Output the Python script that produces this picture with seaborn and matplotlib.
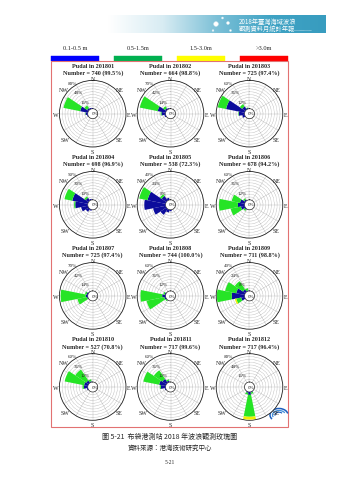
import numpy as np
import pandas as pd
import matplotlib
matplotlib.use("Agg")
import matplotlib.pyplot as plt
import seaborn as sns
from matplotlib.patches import Rectangle, Circle, Arc
from matplotlib.colors import LinearSegmentedColormap

sns.set_style("white")
SERIF = ["Liberation Serif", "DejaVu Serif"]
CJK = ["Noto Sans CJK TC", "DejaVu Sans"]
plt.rcParams["font.family"] = SERIF

W_PX, H_PX = 339, 480

DIRS = ["N", "NNE", "NE", "ENE", "E", "ESE", "SE", "SSE",
        "S", "SSW", "SW", "WSW", "W", "WNW", "NW", "NNW"]
HEIGHT_CLASSES = ["0.1-0.5 m", "0.5-1.5m", "1.5-3.0m", ">3.0m"]
LEGEND_COLORS = ["#0000ff", "#00b050", "#ffff00", "#ff0000"]
PETAL_COLORS = ["#0c0c9c", "#26e426", "#f0f000", "#ff0000"]

MONTHS = ["201801", "201802", "201803", "201804", "201805", "201806",
          "201807", "201808", "201809", "201810", "201811", "201812"]
COUNTS = [740, 664, 725, 698, 538, 678, 725, 744, 711, 527, 717, 717]
VALID_PCT = [99.5, 98.8, 97.4, 96.9, 72.3, 94.2, 97.4, 100.0, 98.8, 70.8, 99.6, 96.4]
RING_MAX = [80, 70, 60, 50, 40, 60, 70, 60, 40, 60, 60, 80]

# frequency (%) per direction: (0.1-0.5 m, 0.5-1.5 m, 1.5-3.0 m, >3.0 m)
rose_201801 = {"WNW": (22, 48, 0, 0), "NW": (5, 9, 0, 0), "W": (6, 1, 0, 0),
               "NNW": (3, 0, 0, 0), "N": (1, 0, 0, 0), "WSW": (2, 0, 0, 0)}
rose_201802 = {"WNW": (20, 45, 0, 0), "NW": (4, 6, 0, 0), "W": (10, 2, 0, 0),
               "WSW": (3, 0, 0, 0), "NNW": (2, 0, 0, 0)}
rose_201803 = {"WNW": (40, 18, 0, 0), "NW": (8, 6, 0, 0), "W": (12, 1, 0, 0),
               "WSW": (5, 0, 0, 0), "NNW": (2, 1, 0, 0)}
rose_201804 = {"WNW": (28, 14, 0, 0), "W": (22, 2, 0, 0), "WSW": (12, 0, 0, 0),
               "SW": (6, 0, 0, 0), "NW": (6, 3, 0, 0), "NNW": (2, 0, 0, 0),
               "SSW": (2, 0, 0, 0)}
rose_201805 = {"WNW": (26, 12, 0, 0), "W": (30, 0, 0, 0), "WSW": (18, 0, 0, 0),
               "SW": (10, 0, 0, 0), "NW": (8, 3, 0, 0), "NNW": (3, 0, 0, 0),
               "SSW": (4, 0, 0, 0), "S": (2, 0, 0, 0)}
rose_201806 = {"W": (14, 40, 0, 0), "WSW": (8, 22, 0, 0), "WNW": (10, 18, 0, 0),
               "NW": (3, 3, 0, 0), "SW": (2, 3, 0, 0)}
rose_201807 = {"W": (5, 62, 0, 0), "WSW": (2, 24, 0, 0), "WNW": (3, 4, 0, 0),
               "NW": (1, 0, 0, 0)}
rose_201808 = {"W": (7, 46, 0, 0), "WSW": (3, 38, 0, 0), "WNW": (2, 3, 0, 0),
               "SW": (1, 2, 0, 0)}
rose_201809 = {"W": (18, 21, 0, 0), "WNW": (12, 16, 0, 0), "NW": (4, 14, 0, 0),
               "WSW": (5, 7, 2, 0), "NNW": (1, 3, 0, 0)}
rose_201810 = {"WNW": (8, 42, 0, 0), "NW": (6, 28, 0, 0), "W": (8, 3, 0, 0),
               "NNW": (2, 4, 0, 0), "WSW": (2, 0, 0, 0)}
rose_201811 = {"WNW": (14, 34, 0, 0), "NW": (10, 22, 0, 0), "W": (10, 2, 0, 0),
               "NNW": (3, 3, 0, 0), "WSW": (2, 0, 0, 0)}
rose_201812 = {"S": (8, 62, 8, 0), "SSW": (3, 5, 0, 0), "SSE": (2, 4, 0, 0)}
ROSES = [rose_201801, rose_201802, rose_201803, rose_201804, rose_201805, rose_201806,
         rose_201807, rose_201808, rose_201809, rose_201810, rose_201811, rose_201812]

records = []
for month, rose in zip(MONTHS, ROSES):
    for d in DIRS:
        for cls, v in zip(HEIGHT_CLASSES, rose.get(d, (0, 0, 0, 0))):
            records.append({"month": month, "direction": d, "height": cls, "pct": v})
df = pd.DataFrame(records)

HOLE = 0.15          # empty inner radius, fraction of the rose radius
COL_X = [92.7, 170.5, 249.5]
ROW_Y = [113.7, 204.8, 295.9, 387.0]
R_PX = 33.3

LABELS = [("N", 0, -1.03, "center"), ("NE", 0.70, -0.70, "left"),
          ("E", 1.02, 0.06, "left"), ("SE", 0.70, 0.80, "left"),
          ("S", 0, 1.16, "center"), ("SW", -0.70, 0.80, "right"),
          ("W", -1.02, 0.06, "right"), ("NW", -0.72, -0.70, "right")]


def draw_rose(data, **kws):
    ax = plt.gca()
    i = MONTHS.index(data["month"].iloc[0])
    rmax = RING_MAX[i]
    ax.set_theta_zero_location("N")
    ax.set_theta_direction(-1)
    ax.set_ylim(0, rmax)
    ax.set_rorigin(-rmax * HOLE / (1 - HOLE))

    theta = np.deg2rad(np.arange(len(DIRS)) * 22.5)
    base = np.zeros(len(DIRS))
    for cls, col in zip(HEIGHT_CLASSES, PETAL_COLORS):
        vals = (data[data["height"] == cls].set_index("direction")["pct"]
                .reindex(DIRS).to_numpy(float))
        ax.bar(theta, vals, width=np.deg2rad(22.5), bottom=base,
               color=col, edgecolor="none", linewidth=0, zorder=3)
        base = base + vals

    ax.set_rgrids(np.arange(1, 11) * rmax / 10, labels=[""] * 10)
    ax.set_thetagrids(np.arange(0, 360, 30), labels=[""] * 12)
    ax.grid(True, color="#8c8c8c", linestyle=(0, (1.2, 1.2)), linewidth=0.35)
    ax.spines["polar"].set_linewidth(0.6)
    ax.spines["polar"].set_color("#222222")
    ax.spines["inner"].set_linewidth(0.5)
    ax.spines["inner"].set_color("#222222")

    for frac in (0.2, 0.6, 1.0):
        v = rmax * frac
        ax.text(np.deg2rad(325), v + 0.1 * rmax, f"{v:g}%", ha="center",
                va="center", fontsize=3.6, zorder=6)
    ax.text(0.53, 0.49, "0%", transform=ax.transAxes, ha="center",
            va="center", fontsize=3.6, zorder=6)

    for name, dx, dy, ha in LABELS:
        ax.text(0.5 + 0.5 * dx, 0.5 - 0.5 * dy, name, transform=ax.transAxes,
                ha=ha, va="center", fontsize=4.3)

    ax.text(0.5, 0.5 + 47 / 66, f"Pudal in {MONTHS[i]}", transform=ax.transAxes,
            ha="center", va="center", fontsize=4.4, fontweight="bold")
    ax.text(0.5, 0.5 + 40 / 66, f"Number = {COUNTS[i]} ({VALID_PCT[i]:.1f}%)",
            transform=ax.transAxes, ha="center", va="center", fontsize=4.4,
            fontweight="bold")


g = sns.FacetGrid(df, col="month", col_wrap=3, col_order=MONTHS, height=1.2,
                  sharex=False, sharey=False, despine=False,
                  subplot_kws={"projection": "polar"})
g.map_dataframe(draw_rose)
g.set_titles(template="")

fig = g.figure
fig.set_size_inches(W_PX / 100, H_PX / 100)
for k, ax in enumerate(g.axes.flat):
    r, c = divmod(k, 3)
    cx, cy = COL_X[c], ROW_Y[r]
    ax.set_position([(cx - R_PX) / W_PX, 1 - (cy + R_PX) / H_PX,
                     2 * R_PX / W_PX, 2 * R_PX / H_PX])
    ax.set_xlabel("")
    ax.set_ylabel("")

# page furniture drawn in pixel coordinates
ov = fig.add_axes([0, 0, 1, 1], zorder=-1)
ov.axis("off")

grad = np.linspace(0, 1, 256)[None, :]
banner_cmap = LinearSegmentedColormap.from_list(
    "banner", ["#ffffff", "#d8ecf3", "#7cc0d7", "#3fa3c4", "#389cbf"])
ov.imshow(grad, extent=(108, 326, 33, 15), cmap=banner_cmap, aspect="auto",
          zorder=1, interpolation="bilinear")
for (bx, by, br) in [(216, 24, 2.4), (222.5, 18, 1.0), (228, 23, 1.5),
                     (213, 30.5, 0.9), (230.5, 30.5, 1.0)]:
    ov.add_patch(Circle((bx, by), br, facecolor="white", edgecolor="#d0e8f0",
                        linewidth=0.3, zorder=2))
ov.text(267.5, 22, "2018年臺灣海域波浪", color="white", fontsize=4.5,
        family=CJK, ha="center", va="center", zorder=3)
ov.text(266.5, 28.5, "觀測資料月統計年報", color="white", fontsize=4.5,
        family=CJK, ha="center", va="center", zorder=3)
ov.plot([294, 311], [30, 30], color="white", linewidth=0.4,
        linestyle=(0, (1, 1)), zorder=3)

LEG_X = [51, 114, 177, 240]
for x0, label, col in zip(LEG_X, HEIGHT_CLASSES, LEGEND_COLORS):
    ov.add_patch(Rectangle((x0, 55.8), 48, 4.8, facecolor=col, edgecolor=col,
                           linewidth=0.3, zorder=2))
    ov.text(x0 + 24, 48, label, ha="center", va="center", fontsize=4.6, zorder=3)

ov.add_patch(Rectangle((51, 61.3), 237, 365.7, fill=False, edgecolor="#e27272",
                       linewidth=0.8, zorder=2))

# logo at the lower right corner of the frame
for (w, h, t1, t2, col, lw) in [(18, 13, 150, 350, "#1d5fbf", 1.1),
                                 (13, 9, 160, 340, "#3f8fdc", 0.9),
                                 (8, 5.5, 170, 330, "#1d5fbf", 0.8)]:
    ov.add_patch(Arc((279, 415), w, h, theta1=t1, theta2=t2, color=col,
                     linewidth=lw, zorder=2))

ov.text(169.5, 437, "圖 5-21  布袋港測站 2018 年波浪觀測玫瑰圖", family=CJK,
        fontsize=5.0, ha="center", va="center")
ov.text(169.5, 447.5, "資料來源：港灣技術研究中心", family=CJK, fontsize=4.7,
        ha="center", va="center")
ov.text(169.5, 463, "5-21", fontsize=4.0, ha="center", va="center")

ov.set_xlim(0, W_PX)
ov.set_ylim(H_PX, 0)

fig.savefig("out.png", dpi=100, facecolor="white")
